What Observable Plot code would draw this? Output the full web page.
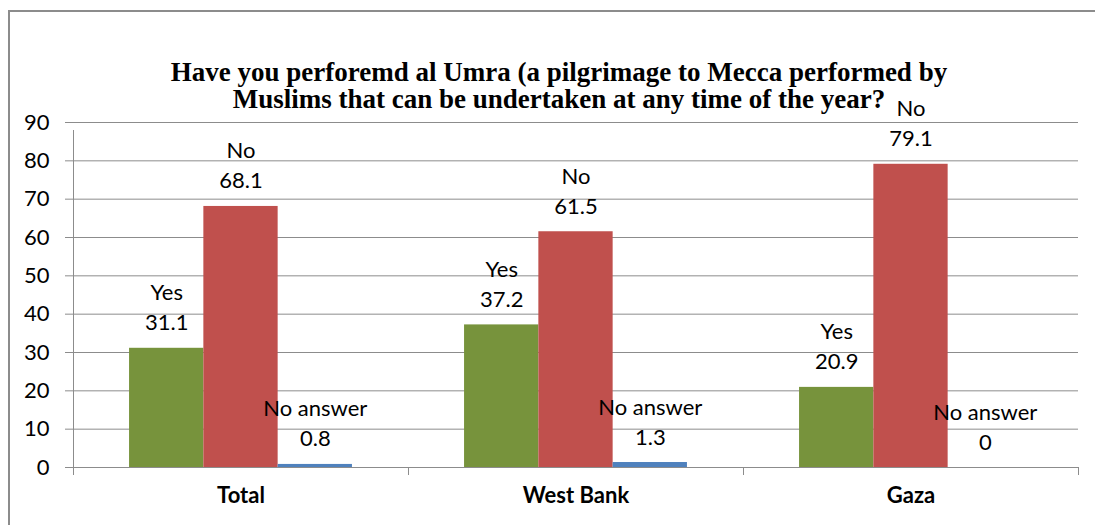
<!DOCTYPE html>
<html><head><meta charset="utf-8">
<script src="https://cdn.jsdelivr.net/npm/d3@7"></script>
<script src="https://cdn.jsdelivr.net/npm/@observablehq/plot@0.6"></script>
<style>
body{margin:0;background:#fff;}
#wrap{position:relative;width:1095px;height:525px;overflow:hidden;background:#fff;}
#border{position:absolute;left:8px;top:10px;width:1200px;height:800px;border-left:2px solid #8c8c8c;border-top:2px solid #8c8c8c;box-sizing:border-box;}
#title{position:relative;height:92px;font-family:"Liberation Serif",serif;font-weight:bold;font-size:27px;line-height:27px;text-align:center;color:#000;z-index:2;}
#title .inner{position:absolute;left:23px;width:1072px;top:59px;}
#chart svg{display:block;}
</style></head>
<body><div id="wrap"><div id="border"></div><div id="title"><div class="inner">Have you perforemd al Umra (a pilgrimage to Mecca performed by<br>Muslims that can be undertaken at any time of the year?</div></div><div id="chart"></div></div>
<script>
const categories = ["Total", "West Bank", "Gaza"];
const seriesNames = ["Yes", "No", "No answer"];
const yesValues = [31.1, 37.2, 20.9];
const noValues = [68.1, 61.5, 79.1];
const noAnswerValues = [0.8, 1.3, 0];
const yTicks = [0, 10, 20, 30, 40, 50, 60, 70, 80, 90];
const seriesColors = ["#77933C", "#C0504D", "#4F81BD"];

const seriesValues = [yesValues, noValues, noAnswerValues];
const rows = seriesNames.flatMap((s, j) =>
  categories.map((c, i) => ({category: c, series: s, value: seriesValues[j][i], j})));

const W = 1095, H = 433, mL = 73, mR = 17, mT = 30, mB = 58;
const step = (W - mL - mR) / categories.length;
const barW = 74.3;
const pi = 1 - barW / step;
const offsets = [-barW, 0, barW];
const gray = "#8c8c8c";
const font = "Lato, sans-serif";

const marks = [
  Plot.gridY(yTicks, {stroke: gray, strokeOpacity: 1}),
  Plot.axisY(yTicks, {tickSize: 8, tickPadding: 16, fontSize: 22, stroke: gray, fill: "#000", label: null, fontFamily: font}),
  Plot.ruleY([0], {stroke: gray}),
  Plot.ruleX([categories[0]], {x: d => d, dx: -step / 2, y1: 0, y2: 90, insetBottom: -8, stroke: gray}),
  Plot.ruleX(categories, {x: d => d, dx: -step / 2, y1: 0, y2: 0, insetBottom: -8, stroke: gray}),
  Plot.ruleX([categories[categories.length - 1]], {x: d => d, dx: step / 2, y1: 0, y2: 0, insetBottom: -8, stroke: gray}),
  ...seriesNames.flatMap((s, j) => {
    const data = rows.filter(d => d.j === j);
    return [
      Plot.barY(data, {x: "category", y: "value", fill: seriesColors[j], dx: offsets[j]}),
      Plot.text(data, {x: "category", y: "value", text: "series", dx: offsets[j], dy: -55, fontSize: 22, fill: "#000"}),
      Plot.text(data, {x: "category", y: "value", text: d => String(d.value), dx: offsets[j], dy: -25, fontSize: 22, fill: "#000"})
    ];
  }),
  Plot.axisX({tickSize: 0, tickPadding: 20, fontSize: 22, fontWeight: "bold", fill: "#000", label: null, fontFamily: font})
];

const chart = Plot.plot({
  width: W, height: H,
  marginLeft: mL, marginRight: mR, marginTop: mT, marginBottom: mB,
  x: {domain: categories, paddingInner: pi, paddingOuter: pi / 2, round: false, axis: null},
  y: {domain: [0, 90], axis: null},
  style: {fontFamily: font, overflow: "visible", background: "transparent"},
  marks
});
document.getElementById("chart").appendChild(chart);
</script>
</body></html>
